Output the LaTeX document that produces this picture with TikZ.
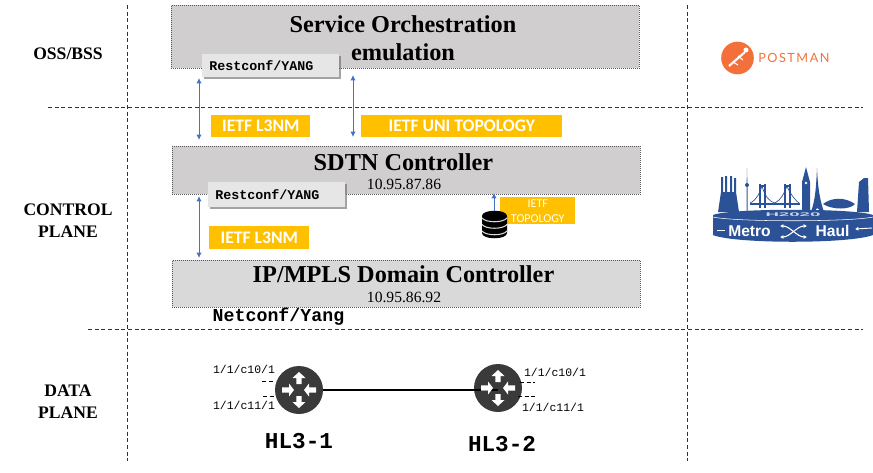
\documentclass[tikz,border=0pt]{standalone}
\usepackage{fontspec}
\setmainfont{Liberation Serif}
\setmonofont{Liberation Mono}
\newfontfamily\labelfont{Carlito}
\newfontfamily\logofont[LetterSpace=12]{Lato}
\newfontfamily\haulfont{Liberation Sans}
\usetikzlibrary{shadows,arrows.meta}
\definecolor{boxgray}{HTML}{D0CECE}
\definecolor{domaingray}{HTML}{D9D9D9}
\definecolor{restgray}{HTML}{E7E6E6}
\definecolor{ietfyellow}{HTML}{FFC000}
\definecolor{arrowblue}{HTML}{4472C4}
\definecolor{postorange}{HTML}{F4703A}
\definecolor{metroblue}{HTML}{2B5296}
\definecolor{routergray}{HTML}{3A3A3A}
\tikzset{
  planeline/.style={densely dashed, line width=0.7pt, black!80},
  ctrlbox/.style={draw=black!65, densely dotted, line width=0.5pt, fill=boxgray, anchor=north west, inner sep=0pt, minimum width=351pt},
  restbox/.style={fill=restgray, anchor=north west, inner xsep=5.25pt, inner ysep=0pt, text width=92.25pt, minimum width=102.75pt,
    drop shadow={shadow xshift=1.2pt, shadow yshift=-1.2pt, fill=black!60, opacity=0.6},
    font=\ttfamily\bfseries\fontsize{10}{10}\selectfont},
  ietfbox/.style={fill=ietfyellow, text=white, anchor=north west, inner sep=0pt, font=\labelfont\bfseries\fontsize{13.2}{13.2}\selectfont},
  planelabel/.style={font=\bfseries\fontsize{13.2}{16.5}\selectfont, align=center},
  titlelabel/.style={font=\bfseries\fontsize{18.2}{21}\selectfont, align=center},
  iplabel/.style={font=\fontsize{11.7}{12}\selectfont},
  portlabel/.style={font=\ttfamily\fontsize{8.6}{9}\selectfont},
  hostlabel/.style={font=\ttfamily\bfseries\fontsize{17}{17}\selectfont},
  linkarrow/.style={arrowblue, line width=0.7pt, {Latex[length=4pt,width=4pt]}-{Latex[length=4pt,width=4pt]}},
  router/.style={circle, fill=routergray, minimum size=36pt, inner sep=0pt},
  portdash/.style={densely dashed, line width=0.5pt},
  logotext/.style={text=white, font=\haulfont\bfseries\fontsize{11.7}{12}\selectfont, inner sep=0pt},
  shufflearrow/.style={white, line width=0.8pt, {Latex[length=2.5pt,width=3pt]}-{Latex[length=2.5pt,width=3pt]}},
}
\begin{document}
\begin{tikzpicture}[x=0.75pt,y=-0.75pt]
\useasboundingbox (0,0) rectangle (873,472);

% Plane separators
\coordinate (vlefttop) at (127,5);
\coordinate (vleftbot) at (127,461);
\coordinate (vrighttop) at (687,5);
\coordinate (vrightbot) at (687,461);
\coordinate (honeleft) at (48,107);
\coordinate (honeright) at (863,107);
\coordinate (htwoleft) at (88,329);
\coordinate (htworight) at (863,329);
\draw [planeline] (vlefttop) -- (vleftbot);
\draw [planeline] (vrighttop) -- (vrightbot);
\draw [planeline] (honeleft) -- (honeright);
\draw [planeline] (htwoleft) -- (htworight);

%Shape: Rectangle
\node (orchbox) [ctrlbox, minimum height=47.25pt] at (171,5) {};
\node (sdtnbox) [ctrlbox, minimum height=36pt] at (172,146) {};
\node (ipbox) [ctrlbox, fill=domaingray, minimum height=35.25pt] at (172,260) {};

% Text Node
\node (osslabel) [planelabel] at (68,54) {OSS/BSS};
\node (ctrllabel) [planelabel] at (68,221) {CONTROL\\PLANE};
\node (datalabel) [planelabel] at (68,402) {DATA\\PLANE};
\node (orchlabel) [titlelabel] at (403,38) {Service Orchestration\\emulation};
\node (sdtnlabel) [titlelabel] at (403.5,162) {SDTN Controller};
\node (sdtnip) [iplabel] at (404,184) {10.95.87.86};
\node (domainlabel) [titlelabel] at (403.5,274) {IP/MPLS Domain Controller};
\node (domainip) [iplabel] at (404,297) {10.95.86.92};
\node (netconf) [font=\ttfamily\bfseries\fontsize{13.7}{14}\selectfont] at (278.5,317) {Netconf/Yang};

%Shape: Rectangle
\node (restone) [restbox, minimum height=17.25pt] at (202,54) {Restconf/YANG};
\node (resttwo) [restbox, minimum height=18.75pt] at (208,182) {Restconf/YANG};
\node (lthreeone) [ietfbox, minimum width=74.25pt, minimum height=16.5pt] at (211,115) {IETF L3NM};
\node (unitopo) [ietfbox, minimum width=150.75pt, minimum height=16.5pt] at (361,115) {IETF UNI TOPOLOGY};
\node (lthreetwo) [ietfbox, minimum width=75pt, minimum height=17.25pt] at (209,226) {IETF L3NM};
\node (topobox) [ietfbox, minimum width=56.25pt, minimum height=20.25pt, align=center, font=\labelfont\fontsize{9}{11.25}\selectfont] at (500,197) {IETF\\TOPOLOGY};

%Straight Lines
\coordinate (aonetop) at (199,78);
\coordinate (aonebot) at (199,140);
\coordinate (atwotop) at (353,75);
\coordinate (atwobot) at (353,137);
\coordinate (athreetop) at (199,196);
\coordinate (athreebot) at (199,258);
\coordinate (dbtop) at (494,193);
\coordinate (dbbot) at (494,212);
\draw [linkarrow] (aonetop) -- (aonebot);
\draw [linkarrow] (atwotop) -- (atwobot);
\draw [linkarrow] (athreetop) -- (athreebot);
\draw [arrowblue, line width=0.7pt, -{Latex[length=4pt,width=4pt]}] (dbbot) -- (dbtop);

% Database
\fill [black] (482,216) .. controls (482,209) and (507,209) .. (507,216) -- (507,233) .. controls (507,240) and (482,240) .. (482,233) -- cycle;
\foreach \ypos in {218,224.5,231} {
  \draw [white!85!black, line width=0.8pt] (482,\ypos) .. controls (486,\ypos+5) and (503,\ypos+5) .. (507,\ypos);
}

% Routers
\node (hlone) [router] at (299,390) {};
\node (hltwo) [router] at (498,388) {};
\draw [line width=2.2pt] (hlone) -- (hlone -| hltwo);
\foreach \rname in {hlone,hltwo} {
  \foreach \ang/\xa/\xb/\xc in {0/-17/-10/-5, 180/-17/-10/-5, 90/6/12/18, 270/6/12/18} {
    \fill [white, shift={(\rname)}, rotate=\ang] (\xa,-2.6) -- (\xb,-2.6) -- (\xb,-6.5) -- (\xc,0) -- (\xb,6.5) -- (\xb,2.6) -- (\xa,2.6) -- cycle;
  }
}

% Port dashes
\coordinate (pa) at (262,381); \coordinate (pb) at (275,381);
\coordinate (pc) at (263,396); \coordinate (pd) at (275,396);
\coordinate (pe) at (520,382); \coordinate (pf) at (535,382);
\coordinate (pg) at (518,396); \coordinate (ph) at (537,396);
\draw [portdash] (pa) -- (pb);
\draw [portdash] (pc) -- (pd);
\draw [portdash] (pe) -- (pf);
\draw [portdash] (pg) -- (ph);

% Text Node
\node (porta) [portlabel] at (244,369) {1/1/c10/1};
\node (portb) [portlabel] at (244,405) {1/1/c11/1};
\node (portc) [portlabel] at (555,372) {1/1/c10/1};
\node (portd) [portlabel] at (553,407) {1/1/c11/1};
\node (hostone) [hostlabel] at (299,441) {HL3-1};
\node (hosttwo) [hostlabel] at (502,444) {HL3-2};

% Postman logo
\node (postcircle) [circle, fill=postorange, minimum size=24.5pt, inner sep=0pt] at (737.5,58) {};
\draw [white, line width=1.6pt] (729,66) -- (745,52);
\fill [white] (746,50) circle (2.5);
\draw [white, line width=0.8pt] (733,62) -- (738,65) (738,56) -- (743,60);
\node (postname) [font=\logofont\fontsize{9.5}{10}\selectfont, text=postorange, anchor=west, inner sep=0pt] at (758,58) {POSTMAN};

% Metro Haul logo
\fill [metroblue] (718,212) -- (721,192) -- (721,177) -- (723,177) -- (723,192) -- (725,192) -- (725,176) -- (727,176) -- (727,192) -- (730,192) -- (730,176) -- (732,176) -- (732,192) -- (734,192) -- (734,178) -- (736,178) -- (736,192) -- (739,212) -- cycle;
\fill [metroblue] (746.5,212) -- (746.5,188) -- (747,168) -- (747.5,188) -- (747.5,212) -- cycle;
\fill [metroblue] (747,185) circle (2);
\draw [metroblue, line width=0.8pt] (760,184) -- (760,208) (765,184) -- (765,208) (760,186) -- (765,186) (785,184) -- (785,208) (790,184) -- (790,208) (785,186) -- (790,186);
\draw [metroblue, line width=0.5pt] (750,203) .. controls (757,200) and (760,192) .. (762,186) .. controls (765,197) and (770,202) .. (775,203) .. controls (781,200) and (785,192) .. (787,186) .. controls (790,194) and (796,201) .. (800,204);
\draw [metroblue, line width=0.8pt] (750,204) -- (800,204);
\fill [metroblue] (802,212) -- (802,182) -- (806,167) -- (810,182) -- (810,212) -- cycle;
\fill [white] (806,183) circle (1.4);
\fill [metroblue] (811,212) .. controls (815,200) and (816,190) .. (817,168) .. controls (818,190) and (820,200) .. (824,212) -- (820,212) .. controls (818.5,207) and (816,207) .. (815,212) -- cycle;
\fill [metroblue] (823,204) .. controls (832,197) and (845,197) .. (855,204) .. controls (850,210) and (832,210) .. (823,204) -- cycle;
\fill [metroblue] (857,212) -- (859,182) -- (864,178) -- (868,178) -- (869,212) -- cycle;
\fill [metroblue] (713,215) .. controls (730,208) and (855,208) .. (873,215) -- (873,235) .. controls (850,244) and (735,244) .. (713,235) -- cycle;
\draw [white, line width=0.4pt] (713,217) .. controls (735,222) and (850,222) .. (873,217);
\node (hznode) [text=white!75!metroblue, font=\haulfont\bfseries\fontsize{4}{4}\selectfont, inner sep=0pt, xscale=3.5] at (793,215) {H2020};
\node (metroname) [logotext] at (749.5,231) {Metro};
\node (haulname) [logotext] at (832.5,231) {Haul};
\draw [shufflearrow] (780,226) .. controls (790,226) and (797,237) .. (807,237);
\draw [shufflearrow] (780,237) .. controls (790,237) and (797,226) .. (807,226);
\draw [white, line width=0.7pt] (717,230) -- (725,230);
\draw [white, line width=0.7pt, {Latex[length=2.5pt,width=3pt]}-] (855,229) -- (872,228);

\end{tikzpicture}
\end{document}
